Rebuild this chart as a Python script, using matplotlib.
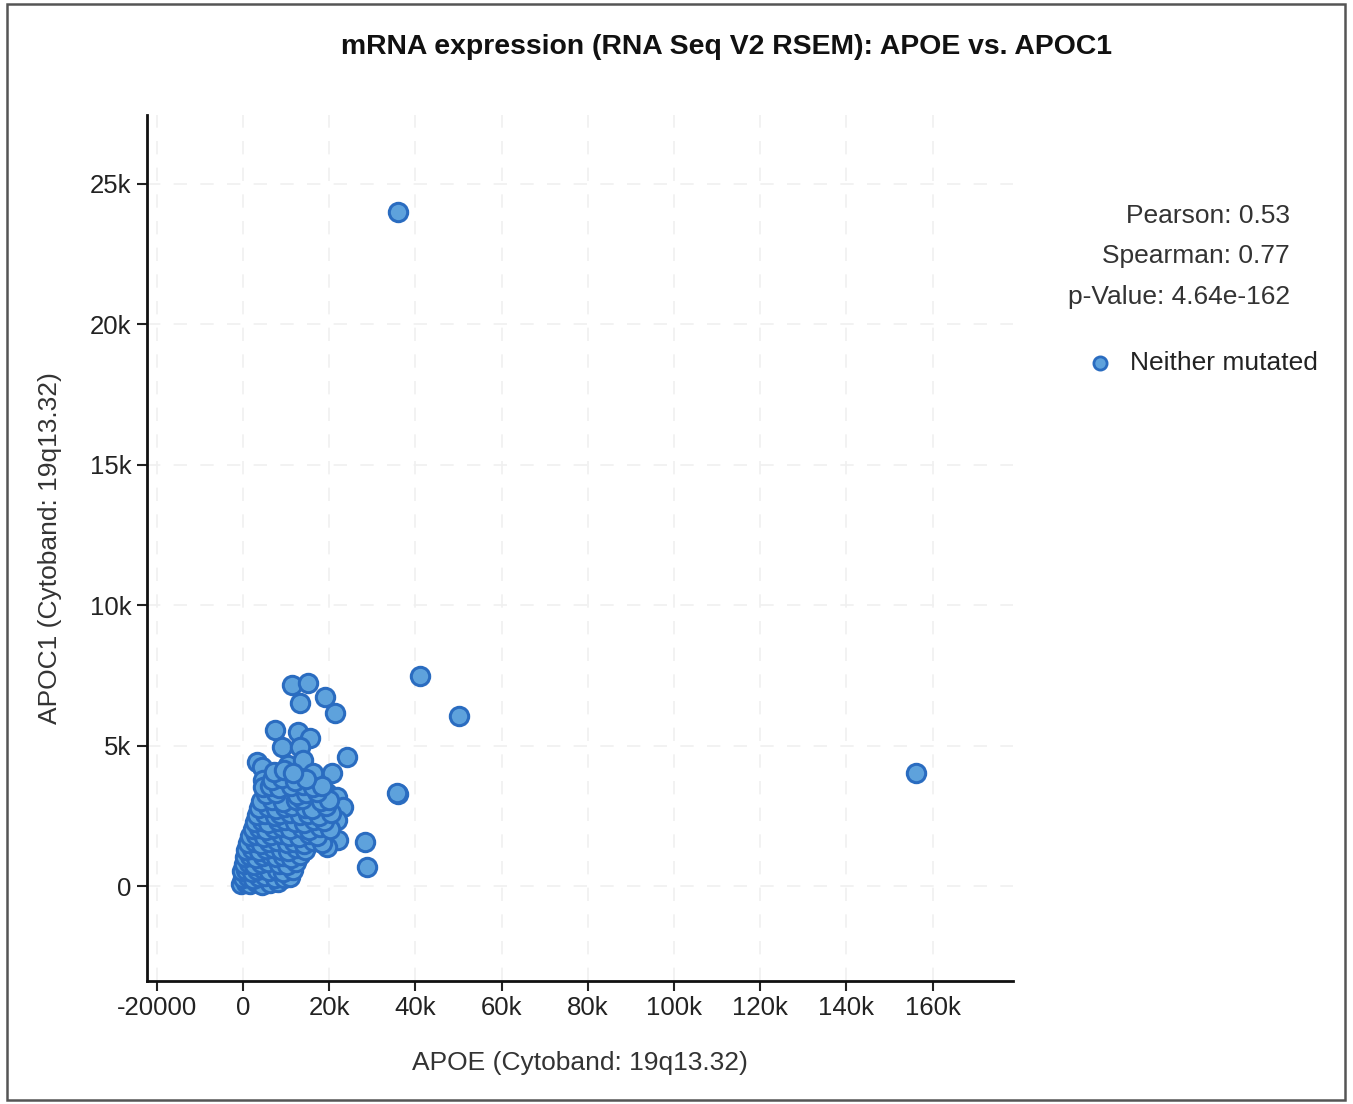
import numpy as np
import matplotlib.pyplot as plt
from matplotlib.patches import Rectangle

# expression values in thousands
apoe_k = [
    36.0, 41.1, 50.1, 36.0, 156.1, 28.3, 28.8, 24.1, 21.3, 19.0,
    11.4, 15.1, 13.2, 7.4, 12.8, 15.5, 9.0, 13.2, 3.2, 4.4,
    10.4, 13.9, 16.2, 20.6, 4.6, 10.9, 15.5, 19.5, 21.8, 23.2,
    4.6, 8.6, 17.2, 21.8, 6.3, 11.6, 16.2, 22.0, 19.5, 2.3,
    7.0, 12.5, 0.9, 6.3, 10.2, 3.9, 8.6, 0.0, 35.7,
    # dense cluster
    -0.4, 0.6, 1.7, 2.9, 4.3, 6.2, 8.1,
    0.1, 1.1, 2.3, 3.6, 5.2, 7.3, 9.4, 10.8,
    -0.3, 0.7, 2.0, 3.2, 4.7, 6.1, 7.8, 9.2, 11.6,
    0.2, 1.4, 2.6, 4.1, 5.8, 8.3, 10.1, 12.2,
    0.4, 1.6, 3.1, 4.6, 6.3, 7.6, 9.3, 11.2, 13.1,
    0.6, 2.1, 3.7, 5.3, 6.9, 8.8, 10.4, 12.3, 14.4,
    1.1, 2.7, 4.2, 6.1, 7.9, 10.2, 11.8, 14.1, 16.2, 18.3,
    1.7, 3.1, 4.8, 6.4, 8.7, 10.6, 12.9, 15.2, 17.1,
    2.2, 3.8, 5.4, 7.2, 9.1, 10.9, 13.6, 15.3, 17.8, 20.1,
    2.8, 4.3, 5.9, 8.2, 9.8, 12.1, 14.2, 16.4, 18.7,
    3.2, 5.1, 7.3, 8.6, 10.8, 13.3, 15.1, 17.6, 20.4,
    3.7, 5.7, 7.6, 9.7, 11.4, 14.3, 16.1, 19.2,
    4.2, 6.6, 9.2, 12.2, 13.7, 18.1, 19.9,
    5.3, 7.7, 12.6, 14.7, 17.2,
    4.7, 6.2, 8.4, 11.2, 13.9, 16.3, 18.4,
    6.7, 9.1, 12.1, 14.6,
    7.1, 9.6, 11.7,
]
apoc1_k = [
    24.0, 7.48, 6.05, 3.28, 4.02, 1.57, 0.68, 4.59, 6.16, 6.73,
    7.16, 7.23, 6.51, 5.55, 5.48, 5.27, 4.95, 4.95, 4.41, 4.24,
    4.31, 4.49, 4.02, 4.02, 3.77, 3.31, 3.35, 3.31, 3.17, 2.81,
    3.06, 2.71, 2.71, 2.35, 2.24, 2.10, 1.99, 1.64, 1.39, 1.64,
    1.64, 1.17, 0.93, 0.93, 0.68, 0.32, 0.46, 0.21, 3.31,
    0.06, 0.12, 0.09, 0.15, 0.05, 0.11, 0.14,
    0.28, 0.33, 0.25, 0.31, 0.36, 0.27, 0.30, 0.34,
    0.52, 0.58, 0.49, 0.56, 0.61, 0.53, 0.57, 0.50, 0.59,
    0.78, 0.83, 0.75, 0.81, 0.86, 0.79, 0.74, 0.84,
    1.02, 1.08, 0.99, 1.06, 1.11, 1.03, 1.07, 1.00, 1.09,
    1.27, 1.33, 1.24, 1.31, 1.36, 1.28, 1.25, 1.34, 1.30,
    1.52, 1.58, 1.49, 1.56, 1.61, 1.53, 1.57, 1.50, 1.59, 1.54,
    1.77, 1.83, 1.74, 1.81, 1.86, 1.78, 1.75, 1.84, 1.80,
    2.02, 2.08, 1.99, 2.06, 2.11, 2.03, 2.07, 2.00, 2.09, 2.04,
    2.27, 2.33, 2.24, 2.31, 2.36, 2.28, 2.25, 2.34, 2.30,
    2.52, 2.58, 2.49, 2.56, 2.61, 2.53, 2.57, 2.50, 2.59,
    2.77, 2.83, 2.74, 2.81, 2.86, 2.78, 2.75, 2.84,
    3.02, 3.08, 2.99, 3.06, 3.11, 3.03, 3.07,
    3.27, 3.33, 3.24, 3.31, 3.36,
    3.52, 3.58, 3.49, 3.56, 3.61, 3.53, 3.57,
    3.77, 3.83, 3.74, 3.81,
    4.07, 4.13, 4.04,
]

x_ticks = [-20000, 0, 20000, 40000, 60000, 80000, 100000, 120000, 140000, 160000]
x_labels = ['-20000', '0', '20k', '40k', '60k', '80k', '100k', '120k', '140k', '160k']
y_ticks = [0, 5000, 10000, 15000, 20000, 25000]
y_labels = ['0', '5k', '10k', '15k', '20k', '25k']
stats = ['Pearson: 0.53', 'Spearman: 0.77', 'p-Value: 4.64e-162']

apoe = np.array(apoe_k) * 1000
apoc1 = np.array(apoc1_k) * 1000

plt.rcParams['font.family'] = ['Liberation Sans', 'DejaVu Sans']

fig = plt.figure(figsize=(13.53, 11.04), dpi=100)
ax = fig.add_axes([0.1086, 0.1114, 0.640, 0.7844])

face = '#5ea2dc'
edge = '#2a6cc0'
ax.scatter(apoe, apoc1, s=175, c=face, edgecolors=edge, linewidths=2.2, zorder=3)

ax.set_xlim(-22300, 178600)
ax.set_ylim(-3380, 27450)
ax.set_xticks(x_ticks)
ax.set_xticklabels(x_labels)
ax.set_yticks(y_ticks)
ax.set_yticklabels(y_labels)
ax.tick_params(labelsize=18.5, colors='#222222', length=7, width=1.5, pad=4)

ax.grid(True, color='#f0f0f0', linestyle=(0, (8, 8)), linewidth=1.2, zorder=0)
for side in ['top', 'right']:
    ax.spines[side].set_visible(False)
for side in ['left', 'bottom']:
    ax.spines[side].set_linewidth(2)
    ax.spines[side].set_color('#111111')

ax.set_xlabel('APOE (Cytoband: 19q13.32)', fontsize=19, color='#333333', labelpad=22)
ax.set_ylabel('APOC1 (Cytoband: 19q13.32)', fontsize=19, color='#333333', labelpad=20)

fig.text(0.5366, 0.9574, 'mRNA expression (RNA Seq V2 RSEM): APOE vs. APOC1',
         fontsize=20.4, fontweight='bold', ha='center', va='center', color='#111111')

for i, s in enumerate(stats):
    fig.text(0.9535, 1 - (216 + 40.5 * i) / 1104, s, fontsize=19, ha='right',
             va='center', color='#333333')

# legend entry
fig.text(1130 / 1353, 1 - 363 / 1104, 'Neither mutated', fontsize=19,
         ha='left', va='center', color='#222222')
ax_leg = fig.add_axes([1090 / 1353, 1 - 373 / 1104, 20 / 1353, 20 / 1104])
ax_leg.axis('off')
ax_leg.set_xlim(0, 1)
ax_leg.set_ylim(0, 1)
ax_leg.scatter([0.5], [0.5], s=90, c=face, edgecolors=edge, linewidths=2.0)

# outer frame of the screenshot
fig.patches.append(Rectangle((7 / 1353, 4 / 1104), 1338 / 1353, 1096 / 1104,
                             transform=fig.transFigure, fill=False,
                             edgecolor='#555555', linewidth=1.8))

fig.savefig('out.png', dpi=100)
